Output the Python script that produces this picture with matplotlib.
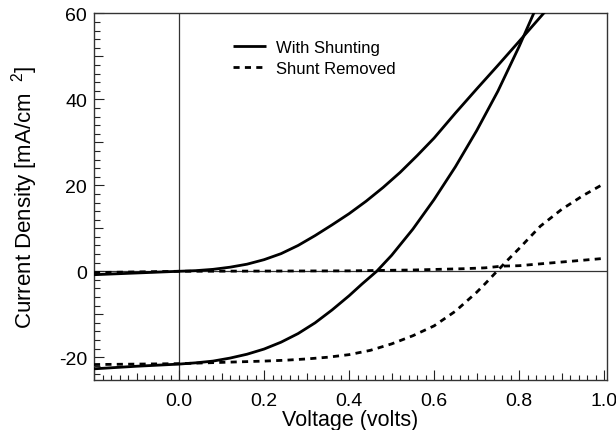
import numpy as np
import matplotlib
matplotlib.use("Agg")
import matplotlib.pyplot as plt
from matplotlib.ticker import MultipleLocator, FixedLocator, FuncFormatter

plt.rcParams['font.family'] = ['Liberation Sans', 'DejaVu Sans']
plt.rcParams['axes.unicode_minus'] = False
plt.rcParams['mathtext.default'] = 'regular'

# ---- data ----
v_shunt_dark = [-0.20, -0.10, 0.00, 0.04, 0.08, 0.12, 0.16, 0.20, 0.24, 0.28, 0.32, 0.36, 0.40,
                0.44, 0.48, 0.52, 0.56, 0.60, 0.65, 0.70, 0.75, 0.80, 0.86]
j_shunt_dark = [-0.8, -0.4, 0.0, 0.15, 0.45, 0.95, 1.65, 2.7, 4.1, 6.0, 8.3, 10.8, 13.4,
                16.3, 19.5, 23.0, 26.9, 31.0, 36.8, 42.4, 47.9, 53.5, 60.3]

v_shunt_light = [-0.20, -0.10, 0.00, 0.04, 0.08, 0.12, 0.16, 0.20, 0.24, 0.28, 0.32, 0.36, 0.40,
                 0.43, 0.465, 0.50, 0.55, 0.60, 0.65, 0.70, 0.75, 0.80, 0.84]
j_shunt_light = [-22.7, -22.1, -21.6, -21.3, -20.9, -20.2, -19.3, -18.1, -16.5, -14.5, -12.0, -9.0, -5.7,
                 -3.0, 0.0, 3.7, 9.8, 16.7, 24.3, 32.7, 41.9, 52.3, 61.3]

v_removed_dark = [-0.20, 0.00, 0.20, 0.40, 0.55, 0.61, 0.67, 0.72, 0.76, 0.80, 0.87, 0.93, 1.00]
j_removed_dark = [-0.3, 0.0, 0.05, 0.1, 0.3, 0.45, 0.6, 0.8, 1.2, 1.3, 1.9, 2.4, 3.0]

v_removed_light = [-0.20, 0.00, 0.10, 0.20, 0.25, 0.30, 0.35, 0.40, 0.45, 0.50, 0.55, 0.60, 0.65,
                   0.70, 0.72, 0.745, 0.77, 0.80, 0.85, 0.90, 0.95, 1.00]
j_removed_light = [-21.7, -21.5, -21.2, -20.9, -20.7, -20.4, -20.0, -19.4, -18.4, -16.9, -15.0, -12.7, -9.3,
                   -4.9, -2.9, -0.3, 2.3, 5.3, 10.5, 14.4, 17.6, 20.4]

labels = ["With Shunting", "Shunt Removed"]
x_label = "Voltage (volts)"
y_label = r"Current Density [mA/cm $^{\ 2}$]"

# ---- figure ----
W, H = 616, 431
fig = plt.figure(figsize=(W / 100, H / 100), dpi=100)
ax = fig.add_axes([94 / W, 1 - 381 / H, (606.7 - 94) / W, (381 - 14) / H])

ax.set_xlim(-0.2, 1.006)
ax.set_ylim(-25.3, 60.1)

ax.axhline(0, color='#333333', lw=0.9, zorder=1)
ax.axvline(0, color='#333333', lw=0.9, zorder=1)

lw = 2.0
dash = (2.2, 1.9)
l1, = ax.plot(v_shunt_dark, j_shunt_dark, color='black', lw=lw, solid_capstyle='butt', zorder=3)
ax.plot(v_shunt_light, j_shunt_light, color='black', lw=lw, solid_capstyle='butt', zorder=3)
l2, = ax.plot(v_removed_dark, j_removed_dark, color='black', lw=lw, ls=(0, dash), zorder=3)
ax.plot(v_removed_light, j_removed_light, color='black', lw=lw, ls=(0, dash), zorder=3)

# legend
leg = fig.legend([l1, l2], labels, loc='upper left',
                 bbox_to_anchor=(233 / W, 1 - 41 / H), bbox_transform=fig.transFigure,
                 frameon=False, fontsize=12, handlelength=2.0, handletextpad=0.6,
                 labelspacing=0.33, borderpad=0, borderaxespad=0)

# spines
for s in ax.spines.values():
    s.set_linewidth(1.0)
    s.set_color('#333333')

# ticks
xt = np.round(np.arange(-0.2, 1.0001, 0.1), 2)
ax.xaxis.set_major_locator(FixedLocator(xt))
ax.xaxis.set_minor_locator(MultipleLocator(0.02))
ax.xaxis.set_major_formatter(FuncFormatter(
    lambda v, p: (f"{v:.1f}" if (abs(round(v * 10)) % 2 == 0 and v > -0.01) else "")))
yt = np.arange(-20, 61, 10)
ax.yaxis.set_major_locator(FixedLocator(yt))
ax.yaxis.set_minor_locator(MultipleLocator(2))
ax.yaxis.set_major_formatter(FuncFormatter(
    lambda v, p: (f"{int(round(v))}" if int(round(v)) % 20 == 0 else "")))

ax.tick_params(which='both', direction='in', top=False, right=False,
               width=0.8, color='#222222', labelsize=14, labelcolor='black')
ax.tick_params(axis='x', which='major', pad=8.5)
ax.tick_params(axis='y', which='major', pad=5.0)
ax.tick_params(axis='x', which='minor', length=3.6)
ax.tick_params(axis='y', which='minor', length=4.3)

for t, v in zip(ax.xaxis.get_major_ticks(), xt):
    t.tick1line.set_markersize(7.2 if abs(round(v * 10)) % 2 == 0 else 5.0)
for t, v in zip(ax.yaxis.get_major_ticks(), yt):
    t.tick1line.set_markersize(7.2 if v % 20 == 0 else 6.5)

ax.set_xlabel(x_label, fontsize=15.5, labelpad=0)
ax.set_ylabel(y_label, fontsize=16)
ax.yaxis.set_label_coords(-(94 - 40) / (606.7 - 94), 0.5)

fig.savefig("out.png", dpi=100)
